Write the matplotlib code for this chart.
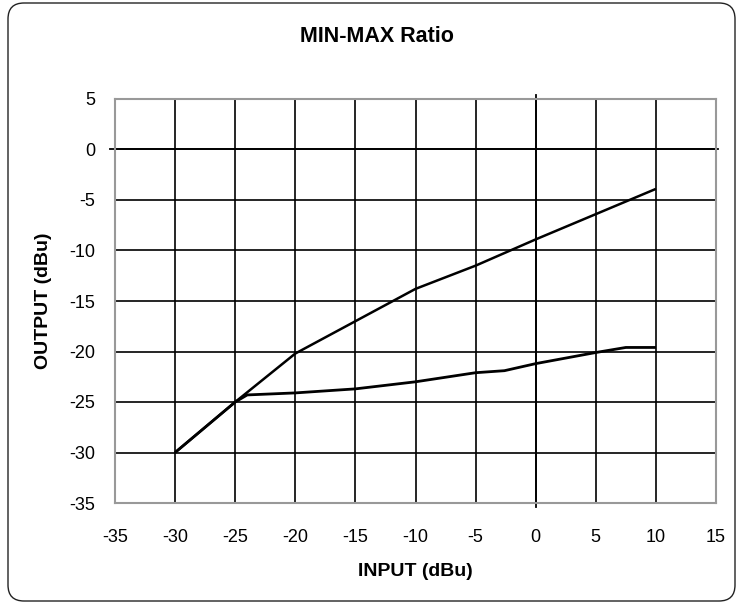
import matplotlib
matplotlib.use("Agg")
import matplotlib.pyplot as plt
from matplotlib.patches import FancyBboxPatch

plt.rcParams['font.family'] = ['Liberation Sans', 'DejaVu Sans']

title = "MIN-MAX Ratio"
x_label = "INPUT (dBu)"
y_label = "OUTPUT (dBu)"

max_x = [-30, -25, -20, -15, -10, -5, 0, 5, 10]
max_y = [-30, -25, -20.2, -17.0, -13.8, -11.5, -8.9, -6.4, -3.9]

min_x = [-30, -25, -24, -20, -15, -10, -5, -2.6, 0, 5, 7.5, 10]
min_y = [-30, -25, -24.3, -24.1, -23.7, -23.0, -22.1, -21.9, -21.2, -20.1, -19.6, -19.6]

x_ticks = [-35, -30, -25, -20, -15, -10, -5, 0, 5, 10, 15]
y_ticks = [-35, -30, -25, -20, -15, -10, -5, 0, 5]

fig = plt.figure(figsize=(7.38, 6.05), dpi=100)
ax = fig.add_axes([115/738, 1-503/605, 601/738, 404/605])

ax.set_xlim(-35, 15)
ax.set_ylim(-35, 5)
ax.set_xticks(x_ticks)
ax.set_yticks(y_ticks)
ax.set_xticklabels([str(v) for v in x_ticks], fontsize=13)
ax.set_yticklabels([str(v) for v in y_ticks], fontsize=13)
ax.tick_params(axis='both', length=0)
ax.tick_params(axis='x', pad=19)
ax.tick_params(axis='y', pad=14)

ax.grid(True, color='black', linewidth=1.2)
ax.set_axisbelow(True)
for s in ax.spines.values():
    s.set_color('#999999')
    s.set_linewidth(1.5)

# zero axes (Excel style, crossing at 0)
ax.axvline(0, ymin=-0.01, ymax=1.01, color='black', linewidth=1.3, clip_on=False, zorder=1)
ax.axhline(0, xmin=-0.008, xmax=1.003, color='black', linewidth=1.3, clip_on=False, zorder=1)

ax.plot(max_x, max_y, color='black', linewidth=1.8, solid_capstyle='butt', zorder=3)
ax.plot(min_x, min_y, color='black', linewidth=2.0, solid_capstyle='butt', zorder=3)

fig.text(377/738, 1-36/605, title, ha='center', va='center', fontsize=15.5, fontweight='bold')
fig.text(415/738, 1-572/605, x_label, ha='center', va='center', fontsize=14, fontweight='bold')
fig.text(44/738, 1-301/605, y_label, ha='center', va='center', rotation=90, fontsize=14, fontweight='bold')

border = FancyBboxPatch((8, 4), 727, 598, boxstyle="round,pad=0,rounding_size=16",
                        transform=None, facecolor='none', edgecolor='#222222', linewidth=1.0)
fig.patches.append(border)

fig.savefig("out.png", dpi=100)
